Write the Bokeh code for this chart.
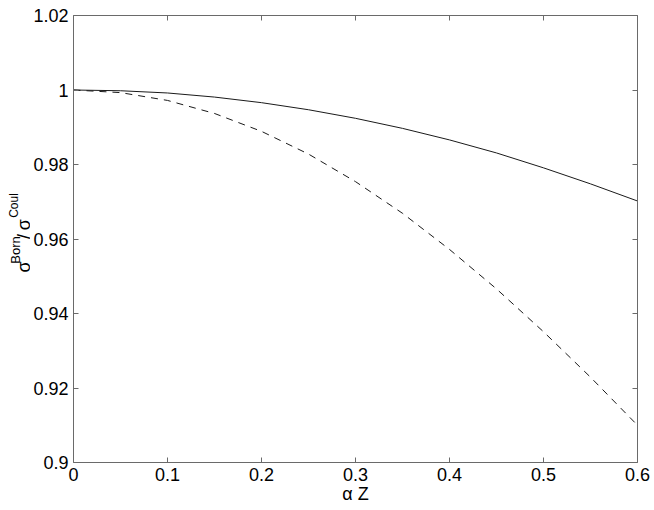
import math
from bokeh.plotting import figure
from bokeh.models import LinearAxis, FixedTicker, Range1d
from bokeh.layouts import row
from bokeh.core.properties import value
from bokeh.embed import file_html
from bokeh.resources import INLINE

# ---- data ----
alpha_z = [0.0, 0.05, 0.1, 0.15, 0.2, 0.25, 0.3, 0.35, 0.4, 0.45, 0.5, 0.55, 0.6]
ratio_solid = [1.0, 0.9998, 0.9992, 0.9981, 0.9966, 0.9947, 0.9924, 0.9897,
               0.9866, 0.9831, 0.9791, 0.9748, 0.9702]
ratio_dashed = [1.0, 0.9993, 0.9972, 0.9937, 0.9889, 0.9828, 0.9754, 0.9669,
                0.9572, 0.9466, 0.9351, 0.9229, 0.9100]

x_ticks = [0.0, 0.1, 0.2, 0.3, 0.4, 0.5, 0.6]
x_tick_labels = ["0", "0.1", "0.2", "0.3", "0.4", "0.5", "0.6"]
y_ticks = [0.9, 0.92, 0.94, 0.96, 0.98, 1.0, 1.02]
y_tick_labels = ["0.9", "0.92", "0.94", "0.96", "0.98", "1", "1.02"]

FONT = "Liberation Sans"
AXIS_COLOR = "#6a6a6a"
H = 506
LABEL_W = 30

p = figure(width=650 - LABEL_W, height=H,
           x_range=Range1d(0, 0.6), y_range=Range1d(0.9, 1.02),
           output_backend="svg", toolbar_location=None,
           min_border_left=71 - LABEL_W, min_border_right=13,
           min_border_top=15, min_border_bottom=44)
p.grid.visible = False
p.outline_line_color = None
p.background_fill_color = "white"
p.border_fill_color = "white"

def style(ax, ticks, labels, show_labels=True):
    ax.ticker = FixedTicker(ticks=ticks)
    ax.minor_tick_line_color = None
    ax.major_tick_in = 5
    ax.major_tick_out = 0
    ax.axis_line_color = AXIS_COLOR
    ax.major_tick_line_color = AXIS_COLOR
    ax.major_label_text_font = FONT
    if show_labels:
        ax.major_label_overrides = dict(zip(ticks, labels))
        ax.major_label_text_color = "black"
        ax.major_label_text_font_size = "18px"
        ax.major_label_standoff = 5
    else:
        ax.major_label_overrides = {t: "" for t in ticks}
        ax.major_label_text_color = None
        ax.major_label_text_font_size = "1px"
        ax.major_label_standoff = 0

style(p.xaxis[0], x_ticks, x_tick_labels)
style(p.yaxis[0], y_ticks, y_tick_labels)

p.xaxis[0].axis_label = "\u03b1 Z"
p.xaxis[0].axis_label_text_font = FONT
p.xaxis[0].axis_label_text_font_size = "18px"
p.xaxis[0].axis_label_text_font_style = "normal"
p.xaxis[0].axis_label_text_color = "black"
p.xaxis[0].axis_label_standoff = 0

top_ax = LinearAxis()
style(top_ax, x_ticks, x_tick_labels, show_labels=False)
p.add_layout(top_ax, "above")
right_ax = LinearAxis()
style(right_ax, y_ticks, y_tick_labels, show_labels=False)
p.add_layout(right_ax, "right")

p.line(alpha_z, ratio_solid, line_color="#1a1a1a", line_width=1)
p.line(alpha_z, ratio_dashed, line_color="#1a1a1a", line_width=1,
       line_dash="7 6")

# ---- y axis label panel: sigma^Born / sigma^Coul (rotated) ----
lab = figure(width=LABEL_W, height=H, x_range=Range1d(0, LABEL_W),
             y_range=Range1d(0, H), output_backend="svg",
             toolbar_location=None, x_axis_type=None, y_axis_type=None,
             min_border=0, min_border_left=0, min_border_right=0,
             min_border_top=0, min_border_bottom=0)
lab.grid.visible = False
lab.outline_line_color = None
lab.background_fill_color = "white"
lab.border_fill_color = "white"

ang = math.pi / 2
big_txt = ["\u03c3", "/", "\u03c3"]
big_x = [23, 23, 23]
big_y = [H - 291, H - 253, H - 243]
born_txt = ["Born"]
born_x = [15]
born_y = [H - 281]
coul_txt = ["Coul"]
coul_x = [13]
coul_y = [H - 229]
lab.text(x=big_x, y=big_y, text=big_txt, angle=ang, text_align="left",
         text_baseline="alphabetic", text_font=value(FONT),
         text_font_size="18px", text_color="black")
lab.text(x=born_x, y=born_y, text=born_txt, angle=ang, text_align="left",
         text_baseline="alphabetic", text_font=value(FONT),
         text_font_size="13px", text_color="black")
lab.text(x=coul_x, y=coul_y, text=coul_txt, angle=ang, text_align="left",
         text_baseline="alphabetic", text_font=value(FONT),
         text_font_size="12px", text_color="black")

layout = row(lab, p, spacing=0)
open("out.html", "w").write(file_html(layout, INLINE))
